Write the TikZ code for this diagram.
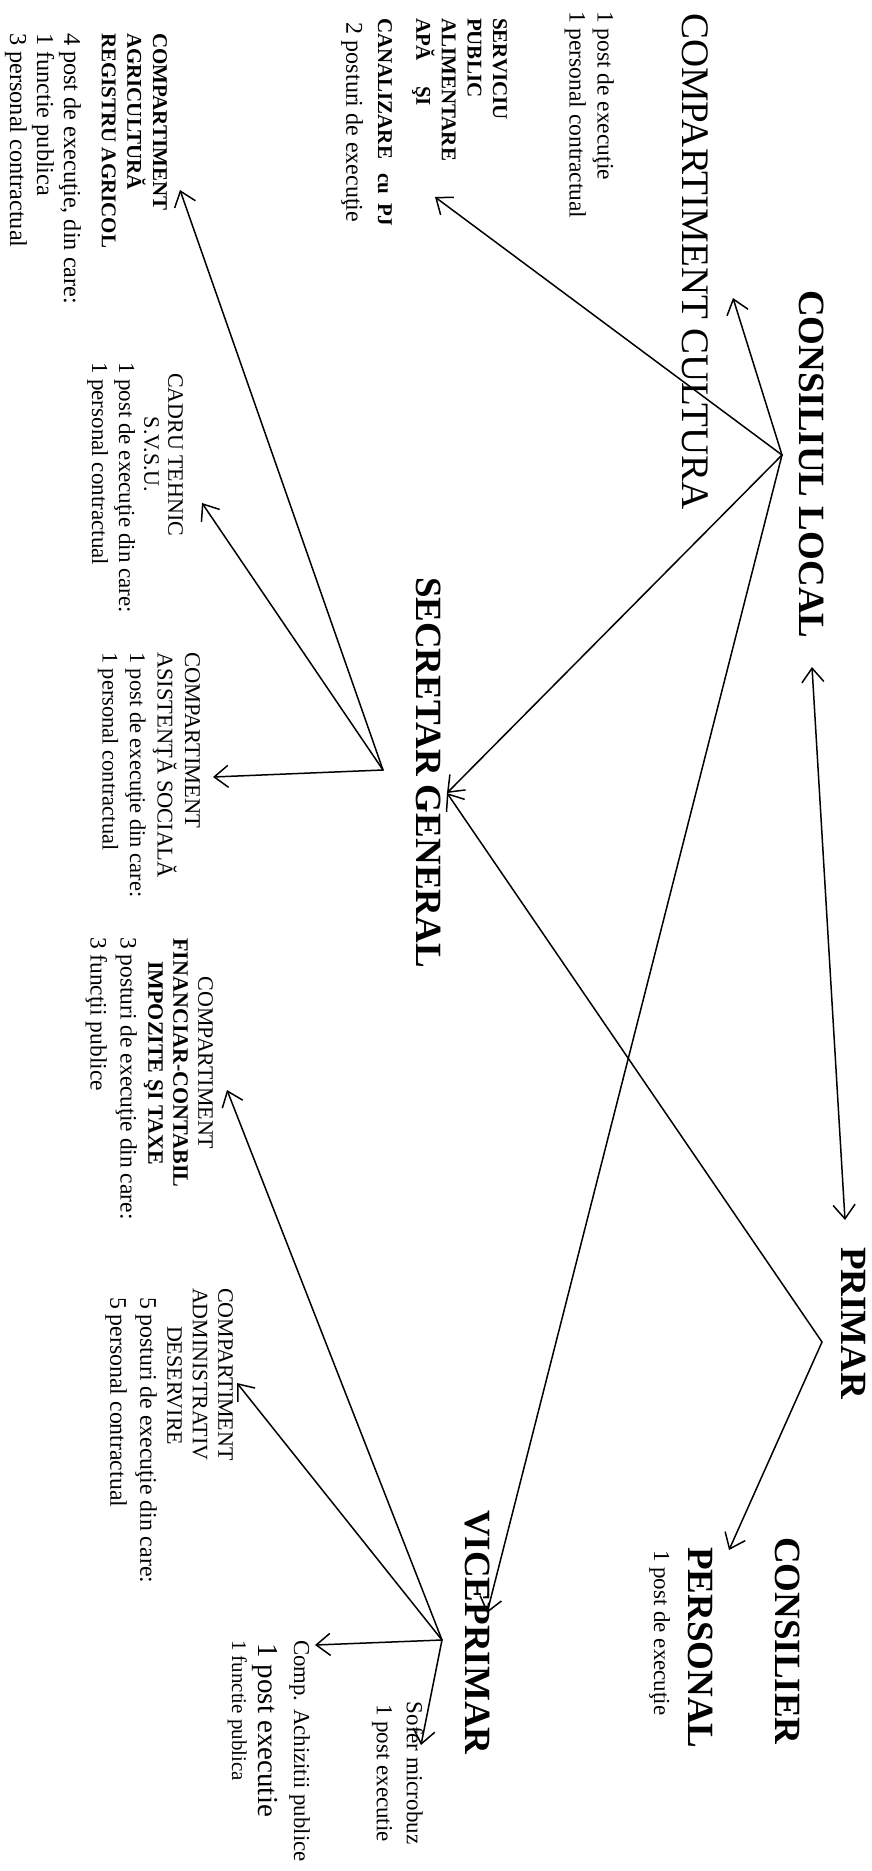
\documentclass[tikz,border=0pt]{standalone}
\usepackage{fontspec}
\setmainfont{Liberation Serif}
\usetikzlibrary{arrows.meta}
\begin{document}
\begin{tikzpicture}[x=1pt,y=-1pt,
  lbl/.style={rotate=-90, anchor=north west, inner sep=0pt, outer sep=0pt, text=black},
  headtxt/.style={lbl, font=\fontsize{37}{44}\selectfont\bfseries},
  boldsmall/.style={lbl, align=left, font=\fontsize{21}{25.6}\selectfont\bfseries},
  smalltxt/.style={lbl, align=left},
  conn/.style={line width=1.5pt, line cap=round, line join=round, -{Straight Barb[length=14pt,width=22pt]}},
  biconn/.style={line width=1.5pt, line cap=round, line join=round, {Straight Barb[length=14pt,width=22pt]}-{Straight Barb[length=14pt,width=22pt]}}
]
\fill[white] (0,0) rectangle (871,1871);
\useasboundingbox (0,0) rectangle (871,1871);

% ---------- headings ----------
\node[headtxt] (cl) at (824,290) {CONSILIUL LOCAL};
\node[lbl, font=\fontsize{39}{46}\selectfont] (cult) at (708,13) {COMPARTIMENT CULTURA};
\node[headtxt] (secr) at (441,577) {SECRETAR GENERAL};
\node[headtxt] (primar) at (866,1247) {PRIMAR};
\node[headtxt] (vice) at (490,1510) {VICEPRIMAR};
\node[headtxt] (consilier) at (800,1537) {CONSILIER};
\node[headtxt] (personal) at (713,1547) {PERSONAL};

% ---------- small texts ----------
\node[smalltxt, font=\fontsize{23.5}{28}\selectfont] (cultstaff) at (614,11)
  {1 post de execuţie\\1 personal contractual};

\node[boldsmall] (serv) at (507,18) {SERVICIU\\PUBLIC\\ALIMENTARE\\APĂ\hspace{25pt}ŞI};
\node[boldsmall] (canal) at (392,18) {CANALIZARE\hspace{14pt}cu\hspace{9pt}PJ};
\node[smalltxt, font=\fontsize{24}{28}\selectfont] (servstaff) at (363,23) {2 posturi de execuţie};

\node[boldsmall] (agri) at (167,33) {COMPARTIMENT\\AGRICULTURĂ\\REGISTRU AGRICOL};
\node[smalltxt, font=\fontsize{24.3}{27}\selectfont] (agristaff) at (81,33)
  {4 post de execuţie, din care:\\1 functie publica\\3 personal contractual};

\node[lbl, align=center, font=\fontsize{22}{24}\selectfont] (cadru) at (183,373) {CADRU TEHNIC\\S.V.S.U.};
\node[smalltxt, font=\fontsize{23}{27}\selectfont] (cadrustaff) at (135,362)
  {1 post de execuţie din care:\\1 personal contractual};

\node[smalltxt, font=\fontsize{22.5}{27.5}\selectfont] (asist) at (200,652)
  {COMPARTIMENT\\ASISTENŢĂ SOCIALĂ\\1 post de execuţie din care:\\1 personal contractual};

\node[lbl, anchor=north, align=center, font=\fontsize{22}{25}\selectfont] (fin) at (213,1063)
  {COMPARTIMENT\\\textbf{FINANCIAR-CONTABIL}\\\textbf{IMPOZITE ŞI TAXE}};
\node[smalltxt, font=\fontsize{23.5}{30}\selectfont] (finstaff) at (137,937)
  {3 posturi de execuţie din care:\\3 funcţii publice};

\node[smalltxt, font=\fontsize{22}{25.5}\selectfont] (adm) at (233,1288)
  {COMPARTIMENT\\ADMINISTRATIV\\\hspace*{38pt}DESERVIRE};
\node[smalltxt, font=\fontsize{23.8}{30}\selectfont] (admstaff) at (157,1297)
  {5 posturi de execuţie din care:\\5 personal contractual};

\node[smalltxt, font=\fontsize{23}{28}\selectfont] (cpstaff) at (670,1550) {1 post de execuţie};

\node[smalltxt, font=\fontsize{22.8}{27}\selectfont] (achiz) at (310,1640) {Comp. Achizitii publice};
\node[smalltxt, font=\fontsize{29}{34}\selectfont] (achizpost) at (278,1643) {1 post executie};
\node[smalltxt, font=\fontsize{21}{25}\selectfont] (achizfunc) at (247,1640) {1 functie publica};

\node[lbl, anchor=north, align=center, font=\fontsize{23}{30}\selectfont] (sofer) at (423,1773)
  {Sofer microbuz\\1 post executie};

% ---------- connector points ----------
\coordinate (clhub) at (782,455);
\coordinate (tcult) at (733,298);
\coordinate (tserv) at (435,197);
\coordinate (tsecr) at (447,793);
\coordinate (tvice) at (487,1613);
\coordinate (tcltop) at (812,667);
\coordinate (tprim) at (845,1220);
\coordinate (prhub) at (822,1342);
\coordinate (tcons) at (729,1550);
\coordinate (sechub) at (383,770);
\coordinate (tagri) at (180,190);
\coordinate (tcadru) at (202,503);
\coordinate (tasist) at (213,777);
\coordinate (vihub) at (442,1640);
\coordinate (tfin) at (227,1090);
\coordinate (tadm) at (237,1383);
\coordinate (tach) at (315,1645);
\coordinate (tsof) at (421,1745);

% ---------- connectors ----------
\draw[conn] (clhub) -- (tcult);
\draw[conn] (clhub) -- (tserv);
\draw[conn] (clhub) -- (tsecr);
\draw[conn] (clhub) -- (tvice);
\draw[biconn] (tcltop) -- (tprim);
\draw[conn] (prhub) -- (tsecr);
\draw[conn] (prhub) -- (tcons);
\draw[conn] (sechub) -- (tagri);
\draw[conn] (sechub) -- (tcadru);
\draw[conn] (sechub) -- (tasist);
\draw[conn] (vihub) -- (tfin);
\draw[conn] (vihub) -- (tadm);
\draw[conn] (vihub) -- (tach);
\draw[conn] (vihub) -- (tsof);
\end{tikzpicture}
\end{document}
